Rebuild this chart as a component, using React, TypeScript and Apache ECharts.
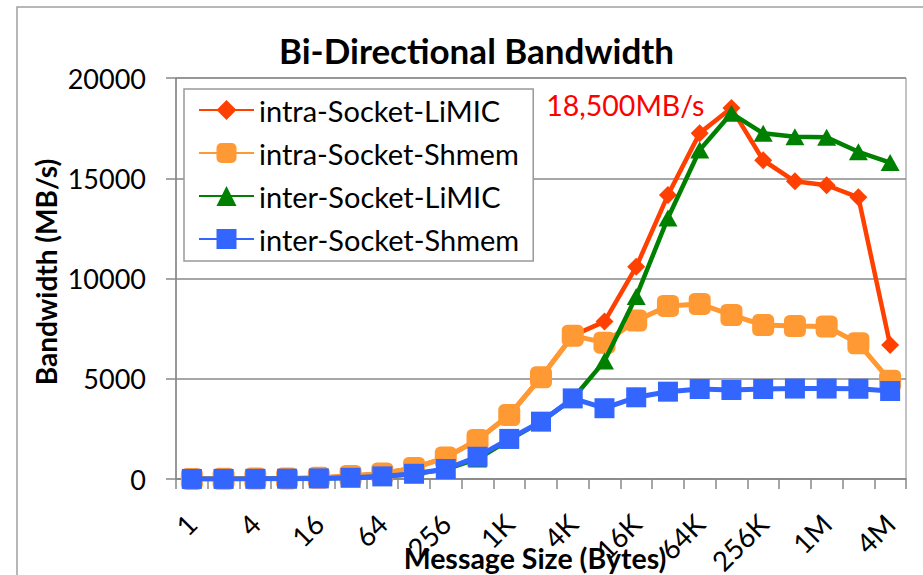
import React, { useEffect, useRef } from 'react';
import * as echarts from 'echarts';

const categories = ['1', '2', '4', '8', '16', '32', '64', '128', '256', '512', '1K', '2K', '4K', '8K', '16K', '32K', '64K', '128K', '256K', '512K', '1M', '2M', '4M'];
const intraLiMIC = [8, 12, 20, 30, 60, 150, 280, 550, 1070, 1950, 3190, 5070, 7150, 7850, 10580, 14160, 17250, 18500, 15900, 14850, 14650, 14050, 6680];
const intraShmem = [5, 10, 20, 30, 60, 150, 280, 550, 1070, 1950, 3190, 5070, 7150, 6800, 7900, 8630, 8730, 8180, 7680, 7630, 7600, 6770, 4900];
const interLiMIC = [3, 5, 8, 15, 30, 60, 130, 250, 480, 1000, 1950, 2850, 4000, 5880, 9100, 13020, 16410, 18240, 17240, 17070, 17040, 16320, 15780];
const interShmem = [3, 5, 8, 15, 30, 60, 130, 260, 500, 1110, 2000, 2860, 4020, 3530, 4075, 4355, 4490, 4440, 4490, 4510, 4510, 4500, 4390];
const seriesNames = ['intra-Socket-LiMIC', 'intra-Socket-Shmem', 'inter-Socket-LiMIC', 'inter-Socket-Shmem'];
const yMin = 0;
const yMax = 20000;
const yInterval = 5000;
const peakIndex = 17;
const peakLabel = '18,500MB/s';
const titleText = 'Bi-Directional Bandwidth';
const xName = 'Message Size (Bytes)';
const yName = 'Bandwidth (MB/s)';

const FONT = 'Lato, "Noto Sans", sans-serif';

export default function App() {
  const ref = useRef<HTMLDivElement>(null);
  useEffect(() => {
    if (!ref.current) return;
    const chart = echarts.init(ref.current, undefined, { renderer: 'svg' });
    const redData = intraLiMIC.map((v, i) =>
      i === peakIndex
        ? {
            value: v,
            label: {
              show: true,
              position: 'left',
              distance: 18,
              offset: [0, -3],
              formatter: peakLabel,
              color: '#ff0000',
              fontSize: 28.5,
              fontFamily: FONT,
            },
          }
        : v
    );
    chart.setOption({
      animation: false,
      backgroundColor: '#ffffff',
      title: {
        text: titleText,
        left: 274,
        top: 27,
        textStyle: { fontFamily: FONT, fontSize: 35, fontWeight: 'bold', color: '#000' },
      },
      graphic: [
        {
          type: 'rect',
          shape: { x: 17, y: 7, width: 1200, height: 1000 },
          style: { fill: 'none', stroke: '#a0a0a0', lineWidth: 1.5 },
          silent: true,
        },
      ],
      legend: {
        orient: 'vertical',
        left: 184,
        top: 89,
        padding: [6, 14, 7, 14],
        itemGap: 13,
        itemWidth: 55,
        itemHeight: 25,
        borderColor: '#999',
        borderWidth: 1.5,
        backgroundColor: '#fff',
        textStyle: { fontFamily: FONT, fontSize: 29, color: '#000', lineHeight: 30 },
        data: seriesNames,
      },
      grid: {
        left: 176,
        right: 17,
        top: 78,
        bottom: 96,
        show: true,
        borderColor: '#888',
        borderWidth: 1,
        outerBoundsMode: 'none',
      },
      xAxis: {
        type: 'category',
        data: categories,
        boundaryGap: true,
        name: xName,
        nameLocation: 'middle',
        nameGap: 64,
        nameMoveOverlap: false,
        nameTextStyle: { fontFamily: FONT, fontSize: 28.5, fontWeight: 'bold', color: '#000', padding: [0, 12, 0, 0] },
        axisLine: { lineStyle: { color: '#888', width: 1.5 } },
        axisTick: { show: true, interval: 0, length: 10, lineStyle: { color: '#888', width: 1.5 } },
        axisLabel: {
          interval: 1,
          rotate: 45,
          margin: 40,
          fontFamily: FONT,
          fontSize: 27.5,
          color: '#000',
        },
        splitLine: { show: false },
      },
      yAxis: {
        type: 'value',
        min: yMin,
        max: yMax,
        interval: yInterval,
        name: yName,
        nameLocation: 'middle',
        nameGap: 116,
        nameMoveOverlap: false,
        nameTextStyle: { fontFamily: FONT, fontSize: 28, fontWeight: 'bold', color: '#000', padding: [0, 0, 0, 13] },
        axisLine: { show: true, lineStyle: { color: '#888', width: 1.5 } },
        axisTick: { show: true, length: 10, lineStyle: { color: '#888', width: 1.5 } },
        axisLabel: { margin: 30, fontFamily: FONT, fontSize: 27, color: '#000', formatter: (v: number) => String(v) },
        splitLine: { show: true, lineStyle: { color: '#888', width: 1.5 } },
      },
      series: [
        {
          name: seriesNames[0],
          type: 'line',
          data: redData,
          symbol: 'diamond',
          symbolSize: 18,
          showAllSymbol: true,
          lineStyle: { color: '#ff4000', width: 4.5 },
          itemStyle: { color: '#ff4000' },
          z: 2,
        },
        {
          name: seriesNames[1],
          type: 'line',
          data: intraShmem,
          symbol: 'roundRect',
          symbolSize: 22,
          showAllSymbol: true,
          lineStyle: { color: '#ff9933', width: 5 },
          itemStyle: { color: '#ff9933' },
          z: 3,
        },
        {
          name: seriesNames[2],
          type: 'line',
          data: interLiMIC,
          symbol: 'triangle',
          symbolSize: [19, 17],
          showAllSymbol: true,
          lineStyle: { color: '#008000', width: 4.5 },
          itemStyle: { color: '#008000' },
          z: 4,
        },
        {
          name: seriesNames[3],
          type: 'line',
          data: interShmem,
          symbol: 'rect',
          symbolSize: 20,
          showAllSymbol: true,
          lineStyle: { color: '#3366ff', width: 5 },
          itemStyle: { color: '#3366ff' },
          z: 5,
        },
      ],
    });
    return () => chart.dispose();
  }, []);
  return (
    <div
      ref={ref}
      style={{ position: 'fixed', left: 0, top: 0, width: 923, height: 575 }}
    />
  );
}
